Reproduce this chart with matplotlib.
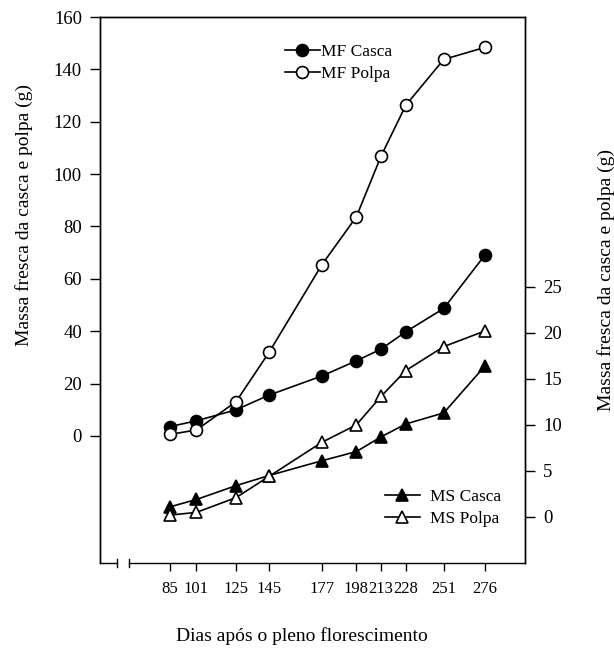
import matplotlib
matplotlib.use("Agg")
import matplotlib.pyplot as plt

plt.rcParams['font.family'] = ['Liberation Serif', 'DejaVu Serif']

days = [85, 101, 125, 145, 177, 198, 213, 228, 251, 276]
mf_casca = [3.6, 5.8, 10.0, 15.6, 22.9, 28.7, 33.2, 39.8, 48.7, 69.1]
mf_polpa = [0.6, 2.3, 13.1, 31.9, 65.3, 83.7, 106.9, 126.3, 143.8, 148.4]
ms_casca = [1.1, 1.9, 3.4, 4.5, 6.1, 7.1, 8.7, 10.1, 11.3, 16.4]
ms_polpa = [0.2, 0.5, 2.1, 4.4, 8.1, 10.0, 13.1, 15.9, 18.5, 20.2]
left_ticks = [0, 20, 40, 60, 80, 100, 120, 140, 160]
right_ticks = [0, 5, 10, 15, 20, 25]
ylabel = "Massa fresca da casca e polpa (g)"
xlabel = "Dias após o pleno florescimento"

W, H = 614, 649
fig = plt.figure(figsize=(W / 100, H / 100), dpi=100)
L, R, T, B = 100, 525, 17, 563
ax = fig.add_axes([L / W, 1 - B / H, (R - L) / W, (B - T) / H])
ax2 = ax.twinx()

fs = 13.5
lw = 1.2
ms = 8.6

ax.plot(days, mf_casca, '-o', color='black', mfc='black', mec='black',
        ms=ms, lw=lw, mew=1.2, label='MF Casca', zorder=3)
ax.plot(days, mf_polpa, '-o', color='black', mfc='white', mec='black',
        ms=ms, lw=lw, mew=1.2, label='MF Polpa', zorder=3)
ax2.plot(days, ms_casca, '-^', color='black', mfc='black', mec='black',
         ms=ms + 0.6, lw=lw, mew=1.2, label='MS Casca', zorder=3)
ax2.plot(days, ms_polpa, '-^', color='black', mfc='white', mec='black',
         ms=ms + 0.6, lw=lw, mew=1.2, label='MS Polpa', zorder=3)

ax.set_xlim(42.5, 300.3)
ax.set_ylim(-48.5, 160)
ax2.set_ylim(-5.0, 54.3)
ax.set_xticks(days)
ax.set_xticklabels([str(d) for d in days], fontsize=12)
ax.set_yticks(left_ticks)
ax.set_yticklabels([str(v) for v in left_ticks], fontsize=fs)
ax2.set_yticks(right_ticks)
ax2.set_yticklabels([str(v) for v in right_ticks], fontsize=fs)

for a in (ax, ax2):
    a.tick_params(direction='out', length=7, width=1.0, colors='black', pad=6)
    for s in a.spines.values():
        s.set_linewidth(1.0)
ax.tick_params(axis='x', length=6, pad=7)
ax.spines['bottom'].set_visible(False)
ax2.spines['bottom'].set_visible(False)

# broken x axis line
b1 = (117 - L) / (R - L)
b2 = (129 - L) / (R - L)
dy = 4 / (B - T)
ax.plot([0, b1], [0, 0], color='black', lw=1.0, transform=ax.transAxes, clip_on=False)
ax.plot([b2, 1], [0, 0], color='black', lw=1.0, transform=ax.transAxes, clip_on=False)
ax.plot([b1, b1], [-dy, dy], color='black', lw=1.0, transform=ax.transAxes, clip_on=False)
ax.plot([b2, b2], [-dy, dy], color='black', lw=1.0, transform=ax.transAxes, clip_on=False)

ax.set_ylabel(ylabel, fontsize=14)
ax.yaxis.set_label_coords((33 - L) / (R - L), (B - 215) / (B - T))
ax2.set_ylabel(ylabel, fontsize=14, rotation=90)
ax2.yaxis.set_label_coords((597 - L) / (R - L), (B - 280) / (B - T))
fig.text(302 / W, 1 - 636 / H, xlabel, fontsize=14, ha='center', va='center')

ax.legend(loc='upper left', bbox_to_anchor=(285 / W, 1 - 44 / H),
          bbox_transform=fig.transFigure, frameon=False, fontsize=12.5,
          handlelength=2.0, handletextpad=0.05, labelspacing=0.32,
          borderpad=0, borderaxespad=0)
ax2.legend(loc='upper left', bbox_to_anchor=(385 / W, 1 - 489 / H),
           bbox_transform=fig.transFigure, frameon=False, fontsize=12.5,
           handlelength=2.0, handletextpad=0.6, labelspacing=0.32,
           borderpad=0, borderaxespad=0)

fig.savefig('out.png', dpi=100)
